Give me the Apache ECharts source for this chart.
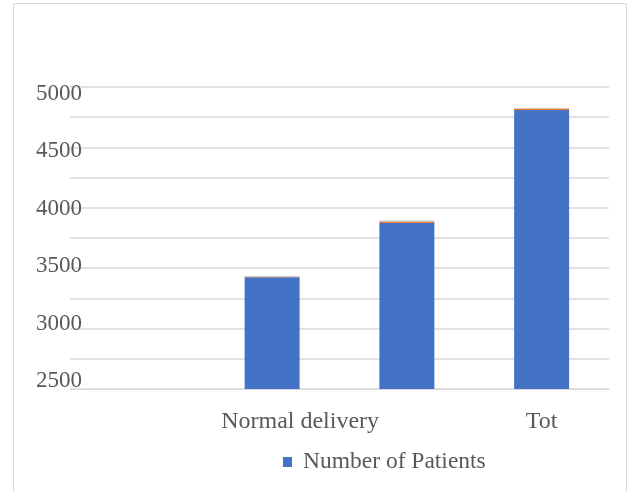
<!DOCTYPE html>
<html>
<head>
<meta charset="utf-8">
<script src="https://cdn.jsdelivr.net/npm/echarts@6/dist/echarts.min.js"></script>
<style>
  html, body { margin: 0; padding: 0; background: #ffffff; }
  #chart { width: 628px; height: 492px; }
</style>
</head>
<body>
<div id="chart"></div>
<script>
// Category slots along the x axis (blank names are not labelled)
const categories = ['', 'Normal delivery', '', 'Tot'];
// Number of patients per slot
const patients = [null, 3425, 3875, 4810];
// Thin stacked caps on top of each bar
const capOrange = [null, 4, 11, 12];
const capGray = [null, 6, 8, 4];
// Value-axis labels
const yTicks = [2500, 3000, 3500, 4000, 4500, 5000];

const FONT = "'Liberation Serif', 'Times New Roman', serif";
const TEXT = '#595959';
const GRID = '#D9D9D9';

const chart = echarts.init(document.getElementById('chart'), null, { renderer: 'canvas' });

chart.setOption({
  backgroundColor: '#ffffff',
  animation: false,
  textStyle: { fontFamily: FONT },
  graphic: [{
    type: 'rect',
    shape: { x: 13.5, y: 3.5, width: 613, height: 520 },
    style: { fill: null, stroke: GRID, lineWidth: 1 },
    silent: true,
    z: -1
  }],
  legend: {
    data: ['Number of Patients'],
    left: 283,
    top: 450,
    padding: 0,
    itemWidth: 9,
    itemHeight: 10,
    icon: 'rect',
    textStyle: { color: TEXT, fontSize: 23.5, fontFamily: FONT, padding: [0, 0, 0, 6] }
  },
  grid: [
    { left: 70, right: 19, top: 87, bottom: 103 },
    // label-only grid for the value scale text
    { left: 70, right: 19, top: 93.5, bottom: 111 }
  ],
  xAxis: [{
    type: 'category',
    gridIndex: 0,
    data: categories,
    axisTick: { show: false },
    axisLine: { show: true, lineStyle: { color: GRID, width: 1 } },
    axisLabel: {
      interval: 0,
      margin: 21,
      color: TEXT,
      fontSize: 24,
      fontFamily: FONT,
      formatter: function (v) {
        return v === 'Normal delivery' ? '{shift|' + v + '}' : v;
      },
      rich: {
        shift: { padding: [0, 0, 0, 56], color: TEXT, fontSize: 24, fontFamily: FONT }
      }
    }
  }, {
    type: 'category',
    gridIndex: 1,
    data: categories,
    show: false
  }],
  yAxis: [{
    type: 'value',
    gridIndex: 0,
    min: 2500,
    max: 5000,
    interval: 250,
    axisLabel: { show: false },
    axisLine: { show: false },
    axisTick: { show: false },
    splitLine: { show: true, lineStyle: { color: GRID, width: 1.5 } }
  }, {
    type: 'value',
    gridIndex: 1,
    min: yTicks[0],
    max: yTicks[yTicks.length - 1],
    interval: 500,
    axisLine: { show: false },
    axisTick: { show: false },
    splitLine: { show: false },
    axisLabel: {
      margin: -12,
      color: TEXT,
      fontSize: 23,
      fontFamily: FONT,
      formatter: function (v) { return String(v); }
    }
  }],
  series: [{
    name: 'Number of Patients',
    type: 'bar',
    stack: 'total',
    xAxisIndex: 0,
    yAxisIndex: 0,
    barWidth: 55,
    itemStyle: { color: '#4472C4' },
    data: patients
  }, {
    name: 'Series 2',
    type: 'bar',
    stack: 'total',
    xAxisIndex: 0,
    yAxisIndex: 0,
    barWidth: 55,
    itemStyle: { color: '#ED7D31' },
    data: capOrange
  }, {
    name: 'Series 3',
    type: 'bar',
    stack: 'total',
    xAxisIndex: 0,
    yAxisIndex: 0,
    barWidth: 55,
    itemStyle: { color: '#BDBDBD' },
    data: capGray
  }]
});
</script>
</body>
</html>
